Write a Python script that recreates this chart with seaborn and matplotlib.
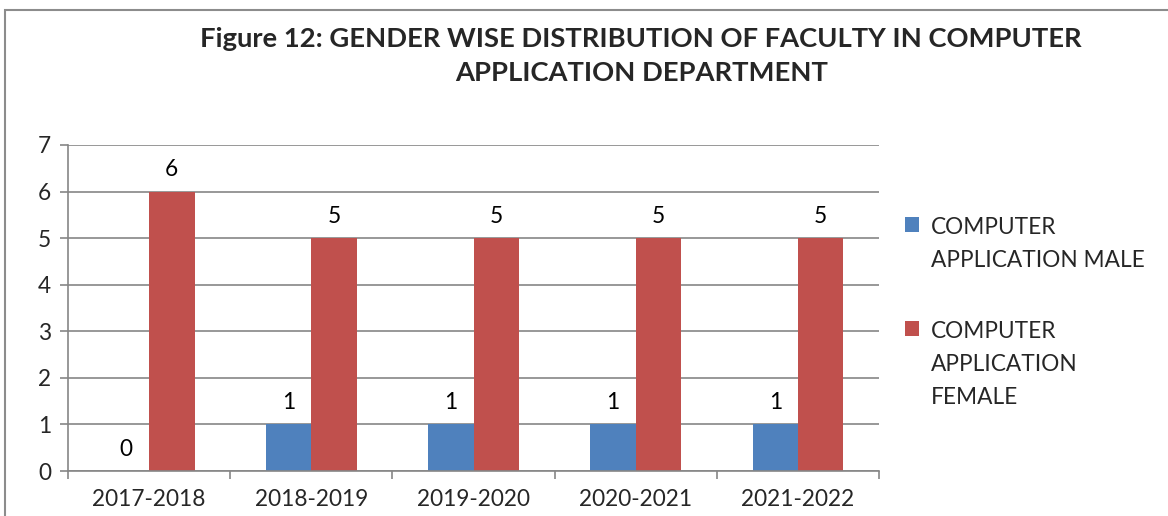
from matplotlib import pyplot as plt
from matplotlib.patches import Rectangle, Patch
import pandas as pd
import seaborn as sns

# chart values
years = ["2017-2018", "2018-2019", "2019-2020", "2020-2021", "2021-2022"]
male = [0, 1, 1, 1, 1]
female = [6, 5, 5, 5, 5]
series = ["COMPUTER\nAPPLICATION MALE", "COMPUTER\nAPPLICATION\nFEMALE"]
colors = ["#4F81BD", "#C0504D"]

df = pd.DataFrame({"year": years, series[0]: male, series[1]: female})
df = df.melt(id_vars="year", var_name="series", value_name="count")

sns.set_theme(style="white")
plt.rcParams["font.family"] = ["Lato", "DejaVu Sans"]

fs = 16.3

fig = plt.figure(figsize=(11.68, 5.16), dpi=100)
ax = fig.add_axes([0.0582, 0.0872, 0.7526 - 0.0582, 0.719 - 0.0872])

sns.barplot(data=df, x="year", y="count", hue="series", palette=colors,
            width=0.56, gap=0, ax=ax, legend=False, saturation=1, linewidth=0)

for c in ax.containers:
    ax.bar_label(c, padding=8, fontsize=fs, color="black")

ax.set(ylim=(0, 7), xlim=(-0.5, 4.5), xlabel="", ylabel="")
ax.set_yticks(range(0, 8))
ax.set_axisbelow(True)
ax.grid(axis="y", color="#868686", linewidth=1.2)
for s in ["top", "right"]:
    ax.spines[s].set_visible(False)
for s in ["left", "bottom"]:
    ax.spines[s].set_color("#868686")
    ax.spines[s].set_linewidth(1.2)

ax.tick_params(axis="y", which="major", length=6, color="#868686", width=1.2,
               labelsize=fs, pad=6, left=True)
ax.tick_params(axis="x", which="major", length=0, labelsize=fs, pad=13)
ax.set_xticks([i - 0.5 for i in range(6)], minor=True)
ax.tick_params(axis="x", which="minor", length=6, color="#868686", width=1.2,
               bottom=True)

fig.text(0.549, 0.892, "Figure 12: GENDER WISE DISTRIBUTION OF FACULTY IN COMPUTER\nAPPLICATION DEPARTMENT",
         ha="center", va="center", fontsize=19.7, fontweight="bold", linespacing=1.5)

handles = [Patch(facecolor=c, edgecolor="none") for c in colors]
leg = fig.legend(handles, series, loc="upper left", bbox_to_anchor=(0.7667, 0.597),
                 frameon=False, fontsize=fs, handlelength=0.65, handleheight=0.65,
                 handletextpad=0.5, labelspacing=2.2, borderaxespad=0)
for t in leg.get_texts():
    t.set_linespacing(1.7)
# put the square beside the first line of each label
try:
    for col in leg._legend_handle_box.get_children():
        for row in col.get_children():
            row.align = "top"
except AttributeError:
    pass

# chart frame
fig.patches.append(Rectangle((5 / 1168, -0.1), 1.2, 1 - 10 / 516 + 0.1,
                             transform=fig.transFigure, fill=False,
                             edgecolor="#8C8C8C", linewidth=1.5))

fig.savefig("out.png", dpi=100)
